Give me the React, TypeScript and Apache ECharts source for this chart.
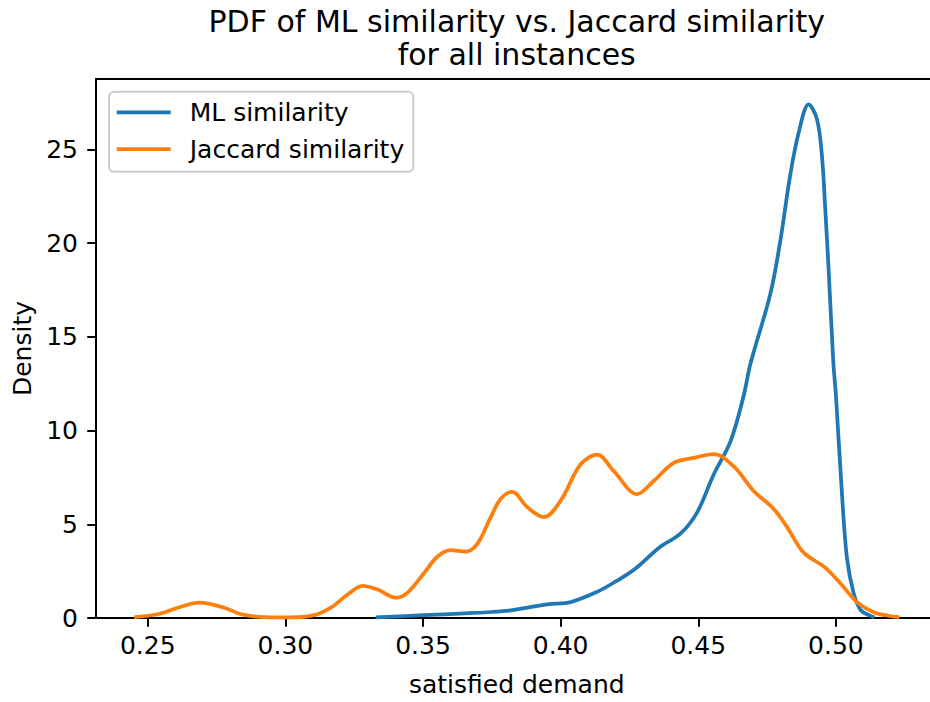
import React, { useEffect, useRef } from "react";
import * as echarts from "echarts";

const seriesNames = ["ML similarity", "Jaccard similarity"];

const mlX = [0.3328, 0.3504, 0.365, 0.375, 0.3818, 0.3951, 0.4036, 0.4133, 0.42, 0.4266, 0.4362, 0.4435, 0.4496, 0.4556, 0.4617, 0.4665, 0.4689, 0.4762, 0.4798, 0.4834, 0.4865, 0.4901, 0.4931, 0.4949, 0.4961, 0.4973, 0.4991, 0.5, 0.5022, 0.504, 0.5064, 0.509, 0.512, 0.514];
const mlY = [0.03, 0.15, 0.25, 0.32, 0.41, 0.73, 0.85, 1.4, 1.95, 2.57, 3.8, 4.5, 5.64, 7.66, 9.42, 11.87, 13.54, 17.31, 20.13, 23.63, 25.92, 27.41, 26.62, 24.69, 21.88, 18.72, 13.54, 11.87, 6.61, 3.2, 1.34, 0.42, 0.15, 0.03];

const jacX = [0.2451, 0.2536, 0.2609, 0.2687, 0.2778, 0.2839, 0.2923, 0.302, 0.3105, 0.3165, 0.3226, 0.328, 0.3335, 0.3401, 0.3443, 0.3504, 0.3552, 0.36, 0.3655, 0.3697, 0.3746, 0.3782, 0.3824, 0.3879, 0.3939, 0.4, 0.4072, 0.4133, 0.4193, 0.4278, 0.4338, 0.4411, 0.4483, 0.4556, 0.4628, 0.4701, 0.4774, 0.4822, 0.4882, 0.496, 0.5016, 0.5076, 0.514, 0.519, 0.523];
const jacY = [0.05, 0.2, 0.55, 0.82, 0.55, 0.2, 0.05, 0.03, 0.15, 0.55, 1.25, 1.72, 1.52, 1.08, 1.34, 2.4, 3.27, 3.62, 3.54, 3.95, 5.38, 6.35, 6.73, 5.91, 5.38, 6.26, 8.19, 8.72, 7.84, 6.61, 7.31, 8.28, 8.54, 8.75, 8.1, 6.78, 5.82, 4.86, 3.5, 2.7, 1.85, 0.86, 0.29, 0.12, 0.05];

const xTicks = [0.25, 0.3, 0.35, 0.4, 0.45, 0.5];
const yTicks = [0, 5, 10, 15, 20, 25];

const titleText = "PDF of ML similarity vs. Jaccard similarity\nfor all instances";
const xName = "satisfied demand";
const yName = "Density";

export default function App() {
  const ref = useRef<HTMLDivElement>(null);
  useEffect(() => {
    const chart = echarts.init(ref.current!, null, { renderer: "svg" });
    const font = "DejaVu Sans";
    const axisLine = { show: true, lineStyle: { color: "#000", width: 2 } };
    chart.setOption({
      animation: false,
      backgroundColor: "#fff",
      textStyle: { fontFamily: font },
      grid: {
        left: 96,
        right: 7.5,
        top: 79,
        bottom: 76.5,
        show: true,
        borderColor: "#000",
        borderWidth: 2,
        backgroundColor: "transparent",
      },
      graphic: [
        {
          type: "text",
          x: 516.7,
          y: 5,
          style: {
            text: titleText,
            font: `30px "${font}"`,
            fill: "#000",
            textAlign: "center",
            textVerticalAlign: "top",
            lineHeight: 33,
          },
        },
      ],
      legend: {
        data: seriesNames,
        orient: "vertical",
        left: 109,
        top: 91.7,
        icon: "rect",
        itemWidth: 54,
        itemHeight: 3.75,
        itemGap: 6.7,
        padding: [5.6, 9, 7.7, 7.7],
        borderColor: "#cccccc",
        borderWidth: 2,
        borderRadius: 5,
        backgroundColor: "rgba(255,255,255,0.8)",
        textStyle: {
          fontSize: 25,
          fontFamily: font,
          color: "#000",
          lineHeight: 30,
          padding: [0, 0, 0, 14],
        },
      },
      xAxis: {
        type: "value",
        min: 0.2312,
        max: 0.5369,
        axisLine,
        axisTick: {
          show: true,
          customValues: xTicks,
          length: 8.75,
          lineStyle: { color: "#000", width: 2 },
        },
        axisLabel: {
          customValues: xTicks,
          formatter: (v: number) => v.toFixed(2),
          fontSize: 25,
          fontFamily: font,
          color: "#000",
          margin: 15,
        },
        splitLine: { show: false },
        name: xName,
        nameLocation: "middle",
        nameGap: 54,
        nameTextStyle: { fontSize: 25, fontFamily: font, color: "#000" },
      },
      yAxis: {
        type: "value",
        min: 0,
        max: 28.76,
        axisLine,
        axisTick: {
          show: true,
          customValues: yTicks,
          length: 8.75,
          lineStyle: { color: "#000", width: 2 },
        },
        axisLabel: {
          customValues: yTicks,
          fontSize: 25,
          fontFamily: font,
          color: "#000",
          margin: 18,
        },
        splitLine: { show: false },
        name: yName,
        nameLocation: "middle",
        nameGap: 58,
        nameTextStyle: { fontSize: 25, fontFamily: font, color: "#000" },
      },
      series: [
        {
          name: seriesNames[0],
          type: "line",
          showSymbol: false,
          smooth: 0.35,
          color: "#1f77b4",
          lineStyle: { width: 3.75, color: "#1f77b4" },
          data: mlX.map((x, i) => [x, mlY[i]]),
        },
        {
          name: seriesNames[1],
          type: "line",
          showSymbol: false,
          smooth: 0.35,
          color: "#ff7f0e",
          lineStyle: { width: 3.75, color: "#ff7f0e" },
          data: jacX.map((x, i) => [x, jacY[i]]),
        },
      ],
    });
    return () => chart.dispose();
  }, []);
  return (
    <div
      style={{
        position: "fixed",
        left: 0,
        top: 0,
        width: 930,
        height: 702,
        overflow: "hidden",
        background: "#fff",
      }}
    >
      <div ref={ref} style={{ width: 945, height: 702 }} />
    </div>
  );
}
